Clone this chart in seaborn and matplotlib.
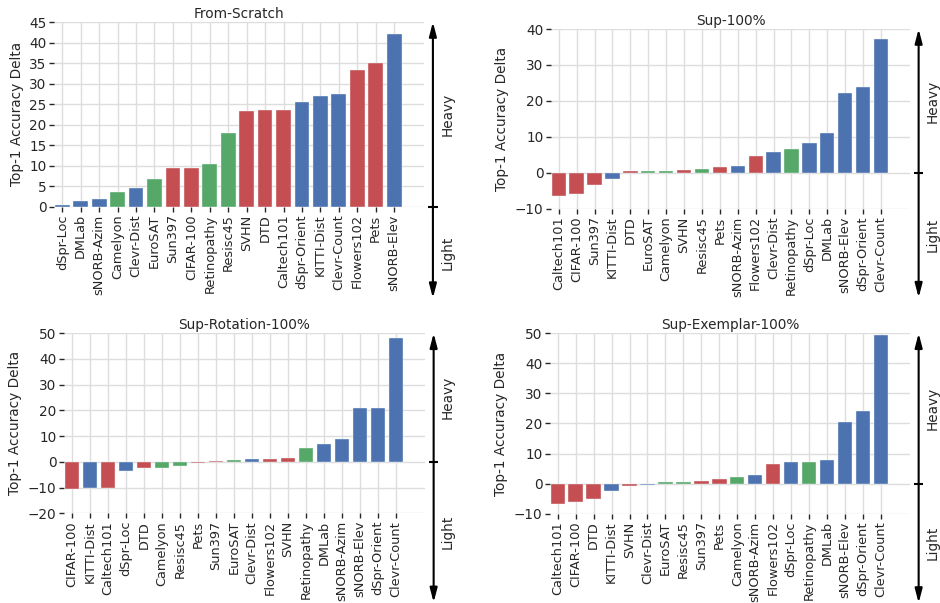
import matplotlib
matplotlib.use("Agg")
import matplotlib.pyplot as plt
import matplotlib.transforms as mtransforms
import seaborn as sns

# Task groups
NATURAL = ["Caltech101", "CIFAR-100", "DTD", "Flowers102", "Pets", "Sun397", "SVHN"]
SPECIALIZED = ["Camelyon", "EuroSAT", "Resisc45", "Retinopathy"]
STRUCTURED = ["Clevr-Count", "Clevr-Dist", "DMLab", "KITTI-Dist", "dSpr-Loc",
              "dSpr-Orient", "sNORB-Azim", "sNORB-Elev"]

# From-Scratch
scratch_tasks = ["dSpr-Loc", "DMLab", "sNORB-Azim", "Camelyon", "Clevr-Dist", "EuroSAT",
                 "Sun397", "CIFAR-100", "Retinopathy", "Resisc45", "SVHN", "DTD",
                 "Caltech101", "dSpr-Orient", "KITTI-Dist", "Clevr-Count", "Flowers102",
                 "Pets", "sNORB-Elev"]
scratch_delta = [0.4, 1.3, 1.9, 3.6, 4.5, 6.7, 9.4, 9.5, 10.5, 18.0, 23.3, 23.5,
                 23.6, 25.4, 27.0, 27.5, 33.3, 34.9, 42.2]

# Sup-100%
sup_tasks = ["Caltech101", "CIFAR-100", "Sun397", "KITTI-Dist", "DTD", "EuroSAT",
             "Camelyon", "SVHN", "Resisc45", "Pets", "sNORB-Azim", "Flowers102",
             "Clevr-Dist", "Retinopathy", "dSpr-Loc", "DMLab", "sNORB-Elev",
             "dSpr-Orient", "Clevr-Count"]
sup_delta = [-6.4, -5.8, -3.5, -1.6, 0.4, 0.55, 0.6, 0.85, 1.1, 1.5, 1.85, 4.7,
             5.9, 6.5, 8.2, 11.2, 22.1, 24.0, 37.2]

# Sup-Rotation-100%
rot_tasks = ["CIFAR-100", "KITTI-Dist", "Caltech101", "dSpr-Loc", "DTD", "Camelyon",
             "Resisc45", "Pets", "Sun397", "EuroSAT", "Clevr-Dist", "Flowers102",
             "SVHN", "Retinopathy", "DMLab", "sNORB-Azim", "sNORB-Elev",
             "dSpr-Orient", "Clevr-Count"]
rot_delta = [-10.4, -10.1, -10.0, -3.4, -2.3, -2.2, -1.7, -0.5, 0.5, 0.8, 1.2, 1.3,
             1.5, 5.3, 7.0, 8.9, 20.9, 21.1, 48.1]

# Sup-Exemplar-100%
ex_tasks = ["Caltech101", "CIFAR-100", "DTD", "KITTI-Dist", "SVHN", "Clevr-Dist",
            "EuroSAT", "Resisc45", "Sun397", "Pets", "Camelyon", "sNORB-Azim",
            "Flowers102", "dSpr-Loc", "Retinopathy", "DMLab", "sNORB-Elev",
            "dSpr-Orient", "Clevr-Count"]
ex_delta = [-6.7, -6.1, -5.1, -2.5, -0.9, -0.3, 0.4, 0.55, 1.0, 1.55, 2.2, 2.9,
            6.4, 7.2, 7.2, 8.0, 20.4, 24.2, 49.3]

panels = [
    ("From-Scratch", scratch_tasks, scratch_delta, (0, 45), range(0, 46, 5)),
    ("Sup-100%", sup_tasks, sup_delta, (-10, 40), range(-10, 41, 10)),
    ("Sup-Rotation-100%", rot_tasks, rot_delta, (-20, 50), range(-20, 51, 10)),
    ("Sup-Exemplar-100%", ex_tasks, ex_delta, (-10, 50), range(-10, 51, 10)),
]

RED, GREEN, BLUE = "#C44E52", "#55A868", "#4C72B0"
group_color = {t: RED for t in NATURAL}
group_color.update({t: GREEN for t in SPECIALIZED})
group_color.update({t: BLUE for t in STRUCTURED})

sns.set_theme(style="whitegrid")
plt.rcParams.update({
    "font.family": ["DejaVu Sans"],
    "grid.color": "#dddddd",
    "grid.linewidth": 1.0,
    "axes.labelcolor": ".15",
    "text.color": ".15",
})

fig = plt.figure(figsize=(9.4, 6.03), dpi=100)
positions = [
    [0.0578, 0.6572, 0.3933, 0.3063],
    [0.5862, 0.6539, 0.3819, 0.2980],
    [0.0681, 0.1488, 0.3840, 0.2985],
    [0.5851, 0.1481, 0.3830, 0.2992],
]

for (title, tasks, deltas, ylim, yticks), pos in zip(panels, positions):
    ax = fig.add_axes(pos)
    sns.barplot(x=tasks, y=deltas, hue=tasks, palette=group_color, order=tasks,
                legend=False, saturation=1, width=0.8, ax=ax,
                edgecolor="#eef2f8", linewidth=0.3)
    ax.set_xlim(-0.43, 19.62)
    ax.set_ylim(*ylim)
    ax.set_yticks(list(yticks))
    ax.grid(True, axis="both", color="#dddddd", linewidth=1.0)
    ax.tick_params(axis="both", which="major", length=3.5, width=1.0,
                   color=".15", labelcolor=".15", bottom=True, left=True)
    ax.tick_params(axis="x", labelrotation=90, labelsize=9.3, pad=2)
    ax.tick_params(axis="y", labelsize=9.8, pad=2)
    ax.set_ylabel("Top-1 Accuracy Delta", fontsize=9.8)
    ax.set_title(title, fontsize=9.8, pad=3)
    for side in ["left", "right", "top", "bottom"]:
        ax.spines[side].set_visible(False)
    ax.set_axisbelow(True)

    # Heavy / Light double arrow beside the axes
    ax_x = 1.024
    y0, y1 = ylim
    zero_frac = (0 - y0) / (y1 - y0)
    bottom_frac = -0.495
    ax.annotate("", xy=(ax_x, 1.0), xytext=(ax_x, bottom_frac),
                xycoords="axes fraction", textcoords="axes fraction",
                annotation_clip=False,
                arrowprops=dict(arrowstyle="<|-|>,head_length=0.42,head_width=0.11",
                                color="black", lw=1.5, shrinkA=0, shrinkB=0,
                                mutation_scale=20))
    blend = mtransforms.blended_transform_factory(ax.transAxes, ax.transData)
    ax.plot([ax_x - 0.013, ax_x + 0.013], [0, 0], color="black", lw=1.5,
            transform=blend, clip_on=False, solid_capstyle="butt")
    ax.text(1.064, (1.0 + zero_frac) / 2, "Heavy", rotation=90, ha="center",
            va="center", transform=ax.transAxes, fontsize=9.8)
    ax.text(1.064, (zero_frac + bottom_frac) / 2, "Light", rotation=90, ha="center",
            va="center", transform=ax.transAxes, fontsize=9.8)

fig.savefig("out.png", dpi=100)
